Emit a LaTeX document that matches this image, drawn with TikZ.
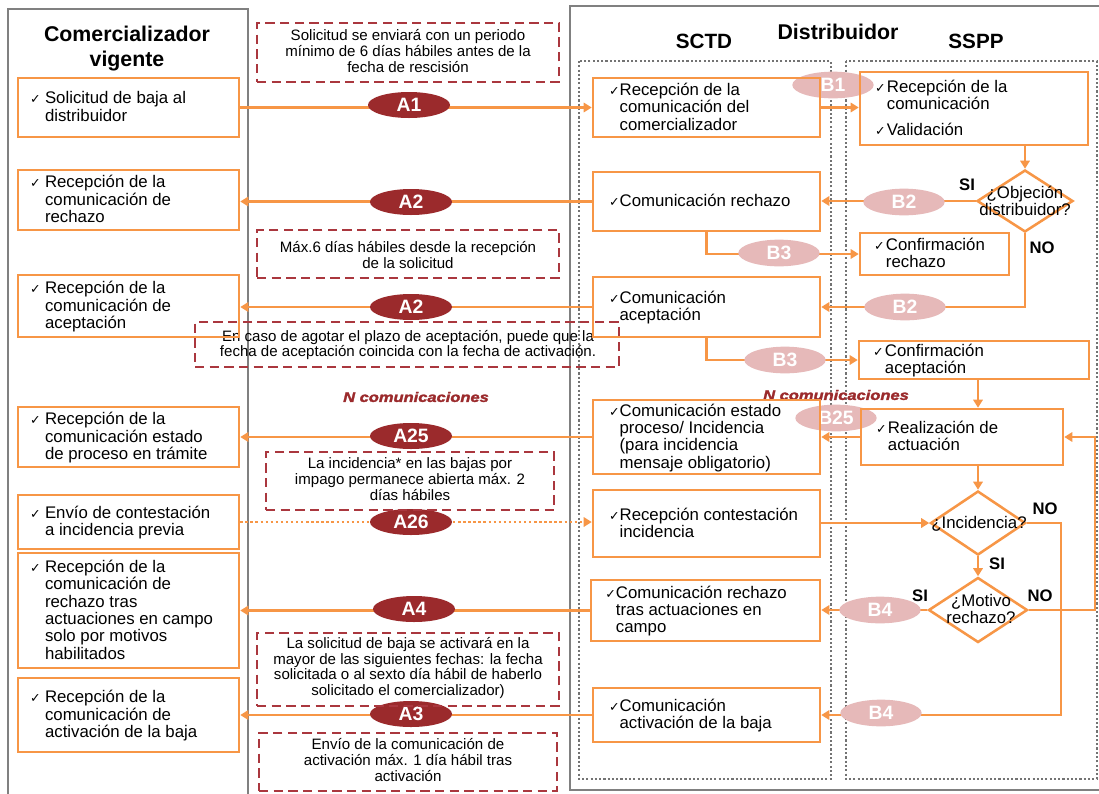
\documentclass[tikz,border=0pt]{standalone}
\usepackage{fontspec}
\setmainfont{Liberation Sans}
\newfontfamily\symf{DejaVu Sans}
\usepackage{graphicx}
\usetikzlibrary{shapes.geometric,arrows.meta,fit}
\pgfdeclarelayer{bg}
\pgfdeclarelayer{mid}
\pgfsetlayers{bg,mid,main}
\definecolor{orng}{RGB}{247,150,70}
\definecolor{dred}{RGB}{155,42,44}
\definecolor{pnk}{RGB}{230,185,185}
\definecolor{nred}{RGB}{170,55,62}
\definecolor{frm}{RGB}{128,128,128}
\definecolor{dotg}{RGB}{115,115,115}
\newcommand{\ckg}{{\symf\fontsize{9.5}{9.5}\selectfont ✓}}
\newcommand{\itm}[2][0pt]{\ckg\hspace{#1}\begin{tabular}[t]{@{}l@{}}#2\end{tabular}}
\begin{document}
\begin{tikzpicture}[x=0.75pt,y=-0.75pt,
  body/.style={font=\fontsize{12.6}{12.9}\selectfont},
  boxbase/.style={draw=orng, line width=1.9pt, inner sep=0pt},
  btxt/.style={body, inner sep=0pt, anchor=west, yshift=-1.2pt},
  note/.style={draw=nred, line width=1.1pt, dash pattern=on 7pt off 4pt, inner sep=0pt},
  ntxt/.style={align=center, inner sep=0pt, font=\fontsize{11.3}{11.8}\selectfont},
  ttl/.style={font=\fontsize{16}{18.75}\selectfont\bfseries, align=center, inner sep=0pt},
  sub/.style={font=\fontsize{15.5}{16}\selectfont\bfseries, inner sep=0pt},
  aell/.style={ellipse, fill=dred, minimum width=61.5pt, minimum height=19.5pt, inner sep=0pt, text=white, font=\fontsize{14.5}{14.5}\selectfont\bfseries},
  bell/.style={aell, fill=pnk, minimum width=61pt, minimum height=20pt},
  dia/.style={diamond, draw=orng, line width=1.9pt, inner sep=0pt},
  dtxt/.style={body, align=center, inner sep=0pt},
  lbl/.style={font=\fontsize{12.5}{12.5}\selectfont\bfseries, inner sep=0pt},
  ncom/.style={text=dred, font=\fontsize{10.3}{12}\selectfont\bfseries\itshape\addfontfeature{FakeBold=1.8}, inner sep=0pt},
  con/.style={draw=orng, line width=1.7pt},
  arr/.style={con, -{Triangle[width=7pt,length=6pt]}},
  dotarr/.style={arr, dash pattern=on 1.8pt off 2pt},
  frame/.style={draw=frm, line width=2.2pt},
  dotbox/.style={draw=dotg, line width=1.6pt, dash pattern=on 1.6pt off 1.6pt}]
\useasboundingbox (0,0) rectangle (1099,793);

\begin{pgfonlayer}{bg}
  \fill[white] (0,0) rectangle (1099,793);
  \draw[frame] (8,9) rectangle (248,812);
  \draw[frame] (570,6) rectangle (1115,790);
  \draw[dotbox] (579,61) rectangle (831,779);
  \draw[dotbox] (846,61) rectangle (1097,779);
\end{pgfonlayer}

% titles
\node[ttl] (tcom) at (127,49) {Comercializador\\vigente};
\node[ttl] (tdis) at (838,32) {Distribuidor};
\node[sub] (tsctd) at (704,41) {SCTD};
\node[sub] (tsspp) at (976,41) {SSPP};

% notes
\node[note, fit={(257,23)(559,82)}] (n1) {};
\node[ntxt] (n1t) at (408,51) {Solicitud se enviará con un periodo\\mínimo de 6 días hábiles antes de la\\fecha de rescisión};
\node[note, fit={(257,230)(559,278)}] (n2) {};
\node[ntxt] (n2t) at (408,255) {Máx.6 días hábiles desde la recepción\\de la solicitud};
\node[note, fit={(195,322)(619,367)}] (n3) {};
\node[ntxt] (n3t) at (408,345) {En caso de agotar el plazo de aceptación, puede que la\\fecha de aceptación coincida con la fecha de activación.};
\node[note, fit={(266,452)(554,510)}] (n4) {};
\node[ntxt] (n4t) at (410,479) {La incidencia* en las bajas por\\impago permanece abierta máx. 2\\días hábiles};
\node[note, fit={(257,633)(559,706)}] (n5) {};
\node[ntxt] (n5t) at (408,668) {La solicitud de baja se activará en la\\mayor de las siguientes fechas: la fecha\\solicitada o al sexto día hábil de haberlo\\solicitado el comercializador)};
\node[note, fit={(259,733)(557,791)}] (n6) {};
\node[ntxt] (n6t) at (408,760) {Envío de la comunicación de\\activación máx. 1 día hábil tras\\activación};

\node[ncom] (nc1) at (416,397) {\scalebox{1.2}[1]{N comunicaciones}};
\node[ncom] (nc2) at (836,395) {\scalebox{1.2}[1]{N comunicaciones}};

% comercializador boxes
\node[boxbase, fit={(18,78)(239,137)}] (c1) {};
\node[btxt] (c1t) at ([xshift=9.75pt]c1.west) {\itm[3.3pt]{Solicitud de baja al\\distribuidor}};
\node[boxbase, fit={(18,170)(239,230)}] (c2) {};
\node[btxt] (c2t) at ([xshift=9.75pt]c2.west) {\itm[3.3pt]{Recepción de la\\comunicación de\\rechazo}};
\node[boxbase, fit={(18,275)(239,337)}] (c3) {};
\node[btxt] (c3t) at ([xshift=9.75pt]c3.west) {\itm[3.3pt]{Recepción de la\\comunicación de\\aceptación}};
\node[boxbase, fit={(18,407)(239,467)}] (c4) {};
\node[btxt] (c4t) at ([xshift=9.75pt]c4.west) {\itm[3.3pt]{Recepción de la\\comunicación estado\\de proceso en trámite}};
\node[boxbase, fit={(18,495)(239,549)}] (c5) {};
\node[btxt] (c5t) at ([xshift=9.75pt]c5.west) {\itm[3.3pt]{Envío de contestación\\a incidencia previa}};
\node[boxbase, fit={(18,553)(239,668)}] (c6) {};
\node[btxt] (c6t) at ([xshift=9.75pt]c6.west) {\itm[3.3pt]{Recepción de la\\comunicación de\\rechazo tras\\actuaciones en campo\\solo por motivos\\habilitados}};
\node[boxbase, fit={(18,678)(239,752)}] (c7) {};
\node[btxt] (c7t) at ([xshift=9.75pt]c7.west) {\itm[3.3pt]{Recepción de la\\comunicación de\\activación de la baja}};

% SCTD boxes
\node[boxbase, fit={(593,78)(820,137)}] (s1) {};
\node[btxt] (s1t) at ([xshift=12.75pt]s1.west) {\itm{Recepción de la\\comunicación del\\comercializador}};
\node[boxbase, fit={(593,172)(820,231)}] (s2) {};
\node[btxt] (s2t) at ([xshift=12.75pt]s2.west) {\itm{Comunicación rechazo}};
\node[boxbase, fit={(593,277)(820,337)}] (s3) {};
\node[btxt] (s3t) at ([xshift=12.75pt]s3.west) {\itm{Comunicación\\aceptación}};
\node[boxbase, fit={(593,400)(820,474)}] (s4) {};
\node[btxt] (s4t) at ([xshift=12.75pt]s4.west) {\itm{Comunicación estado\\proceso/ Incidencia\\(para incidencia\\mensaje obligatorio)}};
\node[boxbase, fit={(593,490)(820,557)}] (s5) {};
\node[btxt] (s5t) at ([xshift=12.75pt]s5.west) {\itm{Recepción contestación\\incidencia}};
\node[boxbase, fit={(591,580)(820,641)}] (s6) {};
\node[btxt] (s6t) at ([xshift=11.5pt]s6.west) {\itm{Comunicación rechazo\\tras actuaciones en\\campo}};
\node[boxbase, fit={(593,688)(820,742)}] (s7) {};
\node[btxt] (s7t) at ([xshift=12.75pt]s7.west) {\itm{Comunicación\\activación de la baja}};

% SSPP boxes
\node[boxbase, fit={(860,72)(1088,145)}] (p1) {};
\node[btxt] (p1t) at ([xshift=12pt]p1.west) {\begin{tabular}[t]{@{}l@{\hspace{1pt}}l@{}}\ckg & Recepción de la\\ & comunicación\\[5.8pt] \ckg & Validación\end{tabular}};
\node[boxbase, fit={(860,233)(1009,275)}] (p2) {};
\node[btxt] (p2t) at ([xshift=11.25pt]p2.west) {\itm[1pt]{Confirmación\\rechazo}};
\node[boxbase, fit={(859,341)(1089,379)}] (p3) {};
\node[btxt] (p3t) at ([xshift=11.25pt]p3.west) {\itm[1pt]{Confirmación\\aceptación}};
\node[boxbase, fit={(861,409)(1063,465)}] (p4) {};
\node[btxt] (p4t) at ([xshift=12pt]p4.west) {\itm[1pt]{Realización de\\actuación}};

% decisions
\node[dia, minimum width=72pt, minimum height=46.5pt] (d1) at (1025,201) {};
\node[dtxt] (d1t) at (1025,201) {¿Objeción\\distribuidor?};
\node[dia, minimum width=71.25pt, minimum height=48pt] (d2) at (978,523) {};
\node[dtxt] (d2t) at (979,524) {¿Incidencia?};
\node[dia, minimum width=74.25pt, minimum height=48.75pt] (d3) at (978,610) {};
\node[dtxt] (d3t) at (981,609) {¿Motivo\\rechazo?};

\node[lbl] (si1) at (967,185) {SI};
\node[lbl] (no1) at (1042,248) {NO};
\node[lbl] (no2) at (1045,509) {NO};
\node[lbl] (si2) at (997,564) {SI};
\node[lbl] (si3) at (920,596) {SI};
\node[lbl] (no3) at (1040,596) {NO};

\coordinate (k1) at (1061,523);
\coordinate (k2) at (1095,610);

\begin{pgfonlayer}{mid}
  % connectors
  \draw[arr] (c1.east) -- (c1.east -| s1.west);
  \draw[arr] (s1.east) -- (s1.east -| p1.west);
  \draw[arr] (p1.south -| d1.north) -- (d1.north);
  \draw[arr] (d1.west) -- (d1.west -| s2.east);
  \draw[arr] (s2.west) -- (s2.west -| c2.east);
  \draw[arr] (s2.south) |- (p2.west);
  \draw[arr] (d1.south) |- (s3.east);
  \draw[arr] (s3.west) -- (s3.west -| c3.east);
  \draw[arr] (s3.south) |- (p3.west);
  \draw[arr] (p3.south -| d2.north) -- (p4.north -| d2.north);
  \draw[arr] (p4.west) -- (p4.west -| s4.east);
  \draw[arr] (s4.west) -- (s4.west -| c4.east);
  \draw[dotarr] (c5.east) -- (c5.east -| s5.west);
  \draw[arr] (d2.west -| s5.east) -- (d2.west);
  \draw[arr] (p4.south -| d2.north) -- (d2.north);
  \draw[arr] (d2.south) -- (d3.north);
  \draw[arr] (d2.east) -- (k1) |- (s7.east);
  \draw[arr] (d3.west) -- (d3.west -| s6.east);
  \draw[arr] (d3.east) -- (k2) |- (p4.east);
  \draw[arr] (s6.west) -- (s6.west -| c6.east);
  \draw[arr] (s7.west) -- (s7.west -| c7.east);
  % message labels
  \node[aell] (ea1) at (409,105) {A1};
  \node[aell] (ea2) at (411,202) {A2};
  \node[aell] (ea2b) at (411,307) {A2};
  \node[aell] (ea25) at (411,436) {A25};
  \node[aell] (ea26) at (411,522) {A26};
  \node[aell] (ea4) at (414,609) {A4};
  \node[aell] (ea3) at (411,714) {A3};
  \node[bell] (eb1) at (833,85) {B1};
  \node[bell] (eb2) at (904,202) {B2};
  \node[bell] (eb3) at (779,253) {B3};
  \node[bell] (eb2b) at (905,307) {B2};
  \node[bell] (eb3b) at (785,360) {B3};
  \node[bell] (eb25) at (836,418) {B25};
  \node[bell] (eb4) at (880,610) {B4};
  \node[bell] (eb4b) at (881,713) {B4};
\end{pgfonlayer}
\end{tikzpicture}
\end{document}
